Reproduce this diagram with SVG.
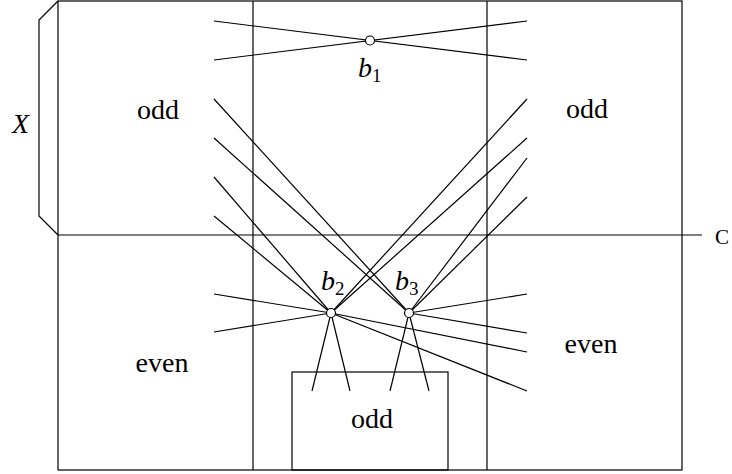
<svg xmlns="http://www.w3.org/2000/svg" width="732" height="474" viewBox="0 0 732 474">
<style>
.ln{stroke:#000;stroke-width:1.2;fill:none}
.nd{stroke:#000;stroke-width:1.2;fill:#fff}
</style>
<rect width="732" height="474" fill="#fff"/>
<g id="frame">
<rect class="ln" x="58" y="1" width="624" height="469"/>
<line class="ln" x1="253" y1="1" x2="253" y2="470"/>
<line class="ln" x1="487" y1="1" x2="487" y2="470"/>
<line class="ln" x1="58" y1="235" x2="702" y2="235"/>
<polyline class="ln" points="58,1 39,20 39,216 58,235"/>
<rect class="ln" x="292" y="372" width="156" height="98"/>
</g>
<g id="connectors">
<line class="ln" x1="214" y1="21" x2="527" y2="60"/>
<line class="ln" x1="214" y1="60" x2="527" y2="21"/>
<line class="ln" x1="214" y1="177" x2="331" y2="313"/>
<line class="ln" x1="214" y1="216" x2="331" y2="313"/>
<line class="ln" x1="527" y1="99" x2="331" y2="313"/>
<line class="ln" x1="527" y1="138" x2="331" y2="313"/>
<line class="ln" x1="214" y1="294" x2="331" y2="313"/>
<line class="ln" x1="214" y1="332" x2="331" y2="313"/>
<line class="ln" x1="527" y1="352" x2="331" y2="313"/>
<line class="ln" x1="527" y1="391" x2="331" y2="313"/>
<line class="ln" x1="312" y1="391" x2="331" y2="313"/>
<line class="ln" x1="350" y1="391" x2="331" y2="313"/>
<line class="ln" x1="214" y1="99" x2="409" y2="313"/>
<line class="ln" x1="214" y1="138" x2="409" y2="313"/>
<line class="ln" x1="527" y1="158" x2="409" y2="313"/>
<line class="ln" x1="527" y1="197" x2="409" y2="313"/>
<line class="ln" x1="527" y1="294" x2="409" y2="313"/>
<line class="ln" x1="527" y1="333" x2="409" y2="313"/>
<line class="ln" x1="390" y1="391" x2="409" y2="313"/>
<line class="ln" x1="429" y1="391" x2="409" y2="313"/>
</g>
<g id="b1">
<circle class="nd" cx="370" cy="40.5" r="4.5"/>
<text x="358" y="77" font-family="'Liberation Serif', serif" font-size="28" font-style="italic">b<tspan font-size="19" font-style="normal" dy="5">1</tspan></text>
</g>
<g id="b2">
<circle class="nd" cx="331" cy="313" r="4.5"/>
<text x="321" y="290" font-family="'Liberation Serif', serif" font-size="28" font-style="italic">b<tspan font-size="19" font-style="normal" dy="5">2</tspan></text>
</g>
<g id="b3">
<circle class="nd" cx="409" cy="313" r="4.5"/>
<text x="395" y="290" font-family="'Liberation Serif', serif" font-size="28" font-style="italic">b<tspan font-size="19" font-style="normal" dy="5">3</tspan></text>
</g>
<g id="labels" font-family="'Liberation Serif', serif" font-size="28" fill="#000">
<text x="158" y="119" text-anchor="middle">odd</text>
<text x="587" y="118" text-anchor="middle">odd</text>
<text x="162" y="372" text-anchor="middle">even</text>
<text x="591" y="353" text-anchor="middle">even</text>
<text x="372" y="428" text-anchor="middle">odd</text>
<text x="12" y="133" font-style="italic">X</text>
<text x="715" y="244" font-size="21">C</text>
</g>
</svg>
